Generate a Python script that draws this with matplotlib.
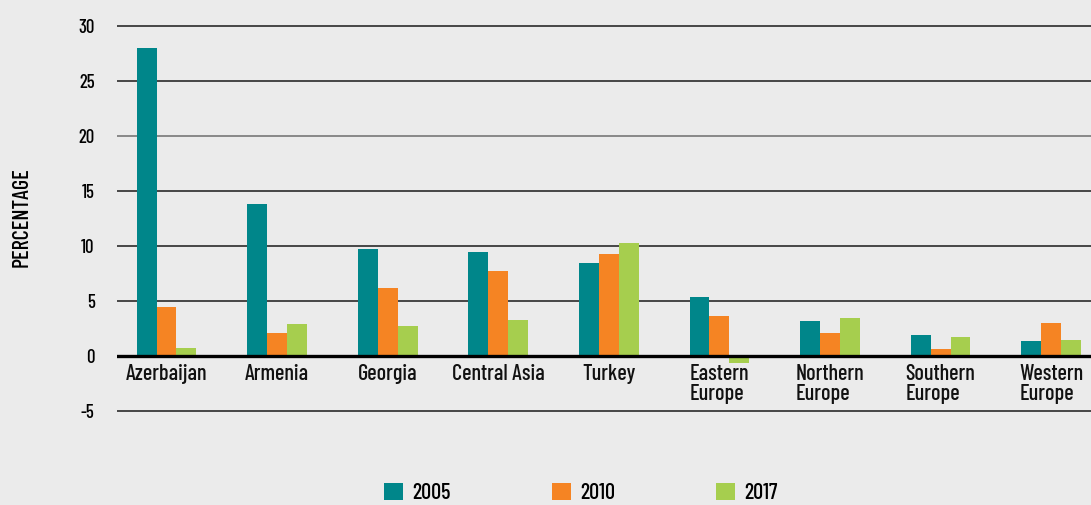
import matplotlib
matplotlib.use("Agg")
from matplotlib import pyplot as plt
from matplotlib.patches import Patch
import numpy as np

regions = ["Azerbaijan", "Armenia", "Georgia", "Central Asia", "Turkey",
           "Eastern\nEurope", "Northern\nEurope", "Southern\nEurope", "Western\nEurope"]
years = ["2005", "2010", "2017"]
v2005 = [28.0, 13.8, 9.7, 9.5, 8.5, 5.4, 3.2, 1.9, 1.4]
v2010 = [4.5, 2.1, 6.2, 7.7, 9.3, 3.6, 2.1, 0.6, 3.0]
v2017 = [0.7, 2.9, 2.7, 3.3, 10.3, -0.6, 3.5, 1.7, 1.5]
yticks = [-5, 0, 5, 10, 15, 20, 25, 30]

colors = ["#00868a", "#f58423", "#a6ce4e"]
bg = "#ebebeb"

plt.rcParams['font.family'] = ['Barlow Condensed', 'DejaVu Sans']
plt.rcParams['font.weight'] = 500

fig = plt.figure(figsize=(10.91, 5.05), dpi=100, facecolor=bg)
ax = fig.add_axes([0.107, 0.184, 0.893, 0.766], facecolor=bg)

x = np.arange(len(regions))
w = 0.18
for i, vals in enumerate([v2005, v2010, v2017]):
    ax.bar(x + (i - 1) * w, vals, width=w, color=colors[i], zorder=3)

for t in yticks:
    if t == 0:
        ax.axhline(0, color="black", lw=2.4, zorder=4)
    else:
        ax.axhline(t, color="#2a2a2a" if t != 20 else "#777777", lw=1.2, zorder=1)

ax.set_ylim(-5.1, 30.1)
ax.set_xlim(-0.45, 8.36)
ax.set_yticks(yticks)
ax.set_yticklabels([str(t) for t in yticks], fontsize=13.5)
ax.set_xticks([])
for xi, lab in zip(x, regions):
    ax.text(xi, -0.75, lab, ha="center", va="top", multialignment="left",
            fontsize=16, color="#111111", linespacing=1.0)
ax.tick_params(axis="both", length=0)
ax.tick_params(axis="y", pad=16)
for s in ax.spines.values():
    s.set_visible(False)

fig.text(0.02, 0.57, "PERCENTAGE", rotation=90, ha="center", va="center", fontsize=16)

handles = [Patch(facecolor=c) for c in colors]
fig.legend(handles, years, loc="center", bbox_to_anchor=(0.5325, 0.024), ncol=3,
           frameon=False, fontsize=16, handlelength=0.85, handleheight=0.85,
           columnspacing=4.55, handletextpad=0.42, borderpad=0.2)

fig.savefig("out.png", dpi=100, facecolor=bg)
